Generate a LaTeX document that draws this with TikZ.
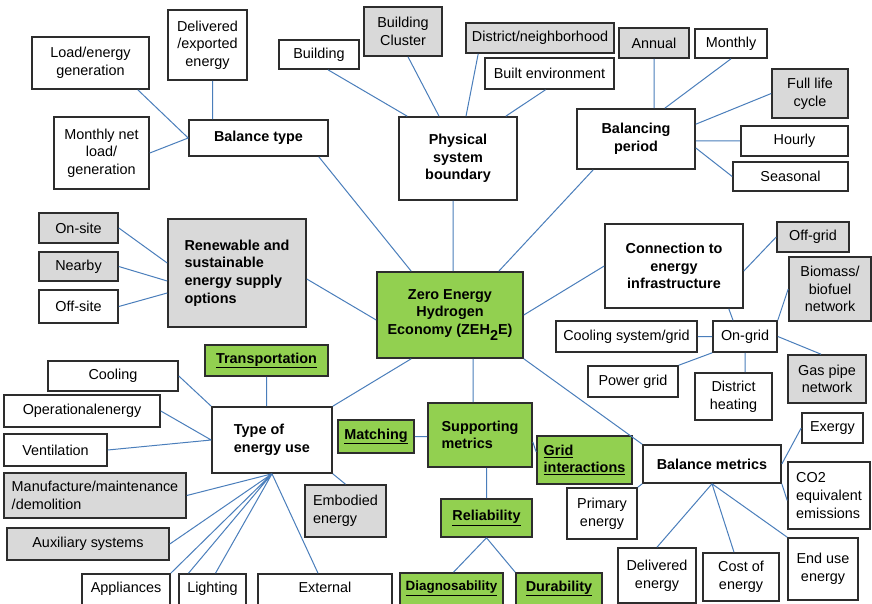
\documentclass[tikz,border=0pt]{standalone}
\usepackage{fontspec}
\setmainfont{Liberation Sans}

\definecolor{boxgreen}{RGB}{146,208,80}
\definecolor{boxgrey}{RGB}{217,217,217}
\definecolor{boxline}{RGB}{45,45,45}
\definecolor{linkblue}{RGB}{74,126,187}

\begin{document}
\begin{tikzpicture}[x=1pt, y=-1pt,
    box/.style={draw=boxline, line width=1.6pt, fill=white, inner xsep=3pt,
      inner ysep=2pt, align=center, font=\fontsize{14.4}{17.6}\selectfont},
    grey/.style={box, fill=boxgrey},
    green/.style={box, fill=boxgreen},
    hub/.style={font=\fontsize{14.4}{17.6}\selectfont\bfseries},
    sz/.style 2 args={minimum width=#1pt, minimum height=#2pt},
    cut/.style={text depth=14pt},
    link/.style={draw=linkblue, line width=1pt}]
  \path[use as bounding box, fill=white] (0,0) rectangle (872,604);

  \node[box, sz={117}{52}] (loadgen) at (90.5,63) {Load/energy\\generation};
  \node[box, sz={79}{70}] (delexp) at (207.5,45) {Delivered\\/exported\\energy};
  \node[box, sz={95}{72}] (monthnet) at (101.5,153) {Monthly net\\load/\\generation};
  \node[box, hub, sz={139}{36}] (baltype) at (258.5,138) {Balance type};

  \node[box, sz={80}{29}] (building) at (319,54.5) {Building};
  \node[grey, sz={78}{49}] (cluster) at (403,31.5) {Building\\Cluster};
  \node[grey, sz={148}{30}] (district) at (540,38) {District/neighborhood};
  \node[box, sz={129}{31}] (builtenv) at (549.5,73.5) {Built environment};
  \node[box, hub, sz={118}{83}] (physbound) at (458,158.5) {Physical\\system\\boundary};

  \node[grey, sz={70}{30}] (annual) at (654,43) {Annual};
  \node[box, sz={72}{29}] (monthly) at (731,43.5) {Monthly};
  \node[grey, sz={76}{49}] (fulllife) at (810,93.5) {Full life\\cycle};
  \node[box, sz={107}{30}] (hourly) at (794.5,141) {Hourly};
  \node[box, sz={115}{29}] (seasonal) at (790.5,176.5) {Seasonal};
  \node[box, hub, sz={118}{60}] (balperiod) at (636,139) {Balancing\\period};

  \node[grey, sz={79}{30}] (onsite) at (78.5,228) {On-site};
  \node[grey, sz={79}{29}] (nearby) at (78.5,266.5) {Nearby};
  \node[box, sz={79}{33}] (offsite) at (78.5,306.5) {Off-site};
  \node[grey, hub, align=left, sz={138}{108}] (supply) at (237,273)
    {Renewable and\\sustainable\\energy supply\\options};

  \node[green, hub, sz={146}{86}] (zeh) at (450,315)
    {Zero Energy\\Hydrogen\\Economy (ZEH\raisebox{-6pt}{2}E)};

  \node[box, hub, sz={138}{84}] (connect) at (674,266) {Connection to\\energy\\infrastructure};
  \node[grey, sz={72}{30}] (offgrid) at (813,237) {Off-grid};
  \node[grey, sz={82}{64}] (biomass) at (830,289) {Biomass/\\biofuel\\network};
  \node[box, sz={64}{31}] (ongrid) at (745,336.5) {On-grid};
  \node[box, sz={141}{31}] (coolgrid) at (626.5,336.5) {Cooling system/grid};
  \node[box, sz={90}{31}] (powergrid) at (633,381.5) {Power grid};
  \node[box, sz={77}{47}] (distheat) at (733.5,396.5) {District\\heating};
  \node[grey, sz={78}{48}] (gaspipe) at (827,379) {Gas pipe\\network};

  \node[green, hub, sz={123}{31}] (transport) at (266.5,360.5) {\underline{Transportation}};
  \node[box, sz={130}{30}] (cooling) at (113,376) {Cooling};
  \node[box, sz={156}{32}] (operational) at (82,411) {Operationalenergy};
  \node[box, sz={103}{32}] (ventilation) at (55.5,450) {Ventilation};
  \node[grey, align=left, sz={182}{45}] (manufacture) at (95,495.5)
    {Manufacture/maintenance\\/demolition};
  \node[grey, sz={162}{32}] (auxiliary) at (88,544) {Auxiliary systems};
  \node[box, cut, sz={88}{40}] (appliances) at (126,594) {Appliances};
  \node[box, cut, sz={67}{40}] (lighting) at (212.5,594) {Lighting};
  \node[box, cut, sz={134}{40}] (external) at (325,594) {External};
  \node[box, hub, align=left, sz={120}{66}] (energyuse) at (272,440) {Type of\\energy use};
  \node[grey, align=left, sz={81}{52}] (embodied) at (345.5,511) {Embodied\\energy};

  \node[green, hub, sz={76}{33}] (matching) at (376,436.5) {\underline{Matching}};
  \node[green, hub, align=left, sz={104}{64}] (support) at (480,435) {Supporting\\metrics};
  \node[green, hub, align=left, sz={95}{48}] (gridint) at (584.5,460)
    {\underline{Grid}\\\underline{interactions}};
  \node[green, hub, sz={91}{38}] (reliab) at (486.5,518) {\underline{Reliability}};
  \node[green, hub, cut, font=\fontsize{13.4}{16}\selectfont\bfseries, sz={103}{40}]
    (diagnos) at (451.5,593) {\underline{Diagnosability}};
  \node[green, hub, cut, sz={86}{40}] (durab) at (559,593) {\underline{Durability}};

  \node[box, sz={70}{51}] (primary) at (602,513.5) {Primary\\energy};
  \node[box, hub, sz={138}{38}] (balmetric) at (712,464) {Balance metrics};
  \node[box, sz={61}{30}] (exergy) at (832.5,428) {Exergy};
  \node[box, align=left, sz={82}{67}] (co2) at (829,495.5) {CO2\\equivalent\\emissions};
  \node[box, sz={78}{55}] (delivered) at (657,575.5) {Delivered\\energy};
  \node[box, sz={76}{48}] (cost) at (741,577) {Cost of\\energy};
  \node[box, sz={70}{62}] (enduse) at (823,569) {End use\\energy};

  % balance type and system boundary
  \draw[link] ([xshift=-12pt]loadgen.south east) -- (baltype.west)
    (monthnet.east) -- (baltype.west)
    ([xshift=5pt]delexp.south) -- ([xshift=5pt]delexp.south |- baltype.north)
    ([xshift=-10pt]baltype.south east) -- ([xshift=35pt]zeh.north west)
    ([xshift=9pt]building.south) -- ([xshift=9pt]physbound.north west)
    ([xshift=5pt]cluster.south) -- ([xshift=-19pt]physbound.north)
    ([xshift=13pt]district.south west) -- ([xshift=8pt]physbound.north)
    ([xshift=-4pt]builtenv.south) -- ([xshift=-12pt]physbound.north east)
    ([xshift=3pt]zeh.north) -- ([xshift=3pt]zeh.north |- physbound.south);
  % balancing period
  \draw[link] ([xshift=17pt]balperiod.south west) -- ([xshift=-25pt]zeh.north east)
    (annual.south) -- (annual.south |- balperiod.north)
    (monthly.south) -- ([xshift=-31pt]balperiod.north east)
    (fulllife.west) -- ([yshift=-16pt]balperiod.north east)
    (hourly.west) -- (hourly.west -| balperiod.east)
    (seasonal.west) -- ([yshift=-9pt]balperiod.east);
  % supply options and infrastructure
  \draw[link] (onsite.east) -- ([yshift=10pt]supply.west)
    (nearby.east) -- ([yshift=-8pt]supply.west)
    (offsite.east) -- ([yshift=-20pt]supply.west)
    ([yshift=-6pt]supply.east) -- ([yshift=-5pt]zeh.west)
    (zeh.east) -- (connect.west)
    ([xshift=-15pt]connect.south east) -- ([xshift=-12pt]ongrid.north)
    ([yshift=-5pt]connect.east) -- (offgrid.west)
    (ongrid.north east) -- (biomass.west)
    (ongrid.west) -- (coolgrid.east)
    (ongrid.south west) -- (powergrid.north east)
    (ongrid.south) -- (ongrid.south |- distheat.north)
    (ongrid.east) -- ([xshift=-6pt]gaspipe.north);
  % energy use
  \draw[link] ([xshift=35pt]zeh.south west) -- (energyuse.north east)
    (transport.south) -- (transport.south |- energyuse.north)
    (cooling.east) -- (energyuse.north west)
    (operational.east) -- (energyuse.west)
    (ventilation.east) -- (energyuse.west)
    (energyuse.south) -- (manufacture.east)
    (energyuse.south) -- (auxiliary.east)
    (energyuse.south) -- (appliances.north east)
    (energyuse.south) -- ([xshift=-24pt]lighting.north)
    (energyuse.south) -- ([xshift=3pt]lighting.north)
    (energyuse.south) -- ([xshift=-7pt]external.north)
    (energyuse.south east) -- (embodied.north);
  % metrics
  \draw[link] ([xshift=23pt]zeh.south) -- ([xshift=23pt]zeh.south |- support.north)
    (matching.east) -- (matching.east -| support.west)
    ([yshift=-7pt]support.east) -- ([yshift=8pt]gridint.west)
    (reliab.north) -- (reliab.north |- support.south)
    (reliab.south) -- ([xshift=2pt]diagnos.north)
    (reliab.south) -- (durab.north west)
    (zeh.south east) -- (balmetric.north west)
    (balmetric.south west) -- (primary.north east)
    (balmetric.east) -- (exergy.west)
    (balmetric.south east) -- ([yshift=-5pt]co2.west)
    (balmetric.south) -- (delivered.north)
    (balmetric.south) -- ([xshift=-7pt]cost.north)
    (balmetric.south) -- (enduse.north west);
\end{tikzpicture}
\end{document}
